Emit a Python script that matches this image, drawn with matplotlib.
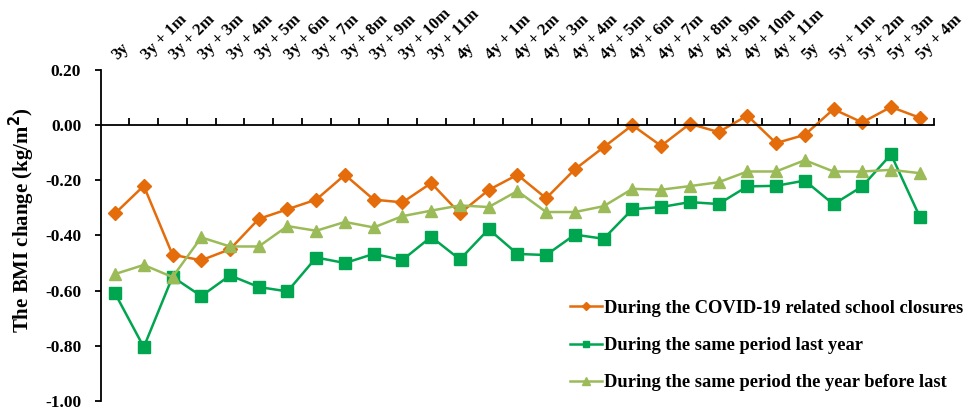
import matplotlib
matplotlib.use('Agg')
import matplotlib.pyplot as plt
import numpy as np

plt.rcParams['font.family'] = 'Liberation Serif'
plt.rcParams['font.weight'] = 'bold'

months = ['3y'] + ['3y + %dm' % m for m in range(1, 12)] + \
         ['4y'] + ['4y + %dm' % m for m in range(1, 12)] + \
         ['5y'] + ['5y + %dm' % m for m in range(1, 5)]

closure = [-0.32, -0.22, -0.47, -0.49, -0.45, -0.34, -0.305, -0.27, -0.18, -0.27,
           -0.28, -0.21, -0.32, -0.235, -0.18, -0.265, -0.16, -0.08, 0.00, -0.075,
           0.005, -0.025, 0.035, -0.065, -0.035, 0.058, 0.01, 0.066, 0.027]
last_year = [-0.61, -0.805, -0.55, -0.62, -0.545, -0.587, -0.603, -0.48, -0.50, -0.467,
             -0.489, -0.405, -0.487, -0.377, -0.467, -0.471, -0.397, -0.412, -0.305, -0.297,
             -0.279, -0.286, -0.222, -0.22, -0.201, -0.287, -0.222, -0.106, -0.332]
year_before = [-0.54, -0.507, -0.551, -0.407, -0.44, -0.44, -0.366, -0.383, -0.351, -0.371,
               -0.33, -0.31, -0.291, -0.297, -0.239, -0.315, -0.315, -0.294, -0.231, -0.234,
               -0.221, -0.207, -0.168, -0.168, -0.127, -0.168, -0.168, -0.162, -0.174]

labels = ['During the COVID-19 related school closures',
          'During the same period last year',
          'During the same period the year before last']

yticks = [-1.0, -0.8, -0.6, -0.4, -0.2, 0.0, 0.2]

x = np.arange(len(months))

fig = plt.figure(figsize=(9.68, 4.12), dpi=100)
ax = fig.add_axes([0.104, 0.027, 0.861, 0.803])

ax.plot(x, closure, color='#E46C0A', lw=1.8, marker='D', ms=7, label=labels[0])
ax.plot(x, last_year, color='#00A550', lw=1.8, marker='s', ms=8, label=labels[1])
ax.plot(x, year_before, color='#9BBB59', lw=1.8, marker='^', ms=9, label=labels[2])

ax.set_xlim(-0.5, len(months) - 0.5)
ax.set_ylim(-1.0, 0.2)
ax.set_yticks(yticks)
ax.set_yticklabels(['%.2f' % v if v != 0 else '0.00' for v in yticks], fontsize=12.5)
ax.tick_params(axis='y', direction='out', length=4, width=1.3, pad=10)

ax.spines['top'].set_visible(False)
ax.spines['right'].set_visible(False)
ax.spines['left'].set_linewidth(1.3)
ax.spines['bottom'].set_position(('data', 0))
ax.spines['bottom'].set_linewidth(1.3)
ax.set_xticks(x + 0.5)
ax.set_xticklabels([])
ax.tick_params(axis='x', direction='in', length=5, width=1.3)

# category labels sit above the plot, rotated
for i, lab in enumerate(months):
    ax.text(i + 0.2, 1.02, lab, transform=ax.get_xaxis_transform(), rotation=45,
            rotation_mode='anchor', ha='left', va='bottom', fontsize=12, fontweight='bold')

ax.set_ylabel('The BMI change (kg/m$^\\mathbf{2}$)', fontsize=15, fontweight='bold')
ax.yaxis.set_label_coords(-0.076, 0.547)

ax.legend(loc='lower right', frameon=False, fontsize=13.3, handlelength=1.75,
          handletextpad=0.1, labelspacing=1.1, borderaxespad=0.2,
          bbox_to_anchor=(1.048, -0.005), markerscale=0.6)

plt.savefig('out.png', dpi=100)
